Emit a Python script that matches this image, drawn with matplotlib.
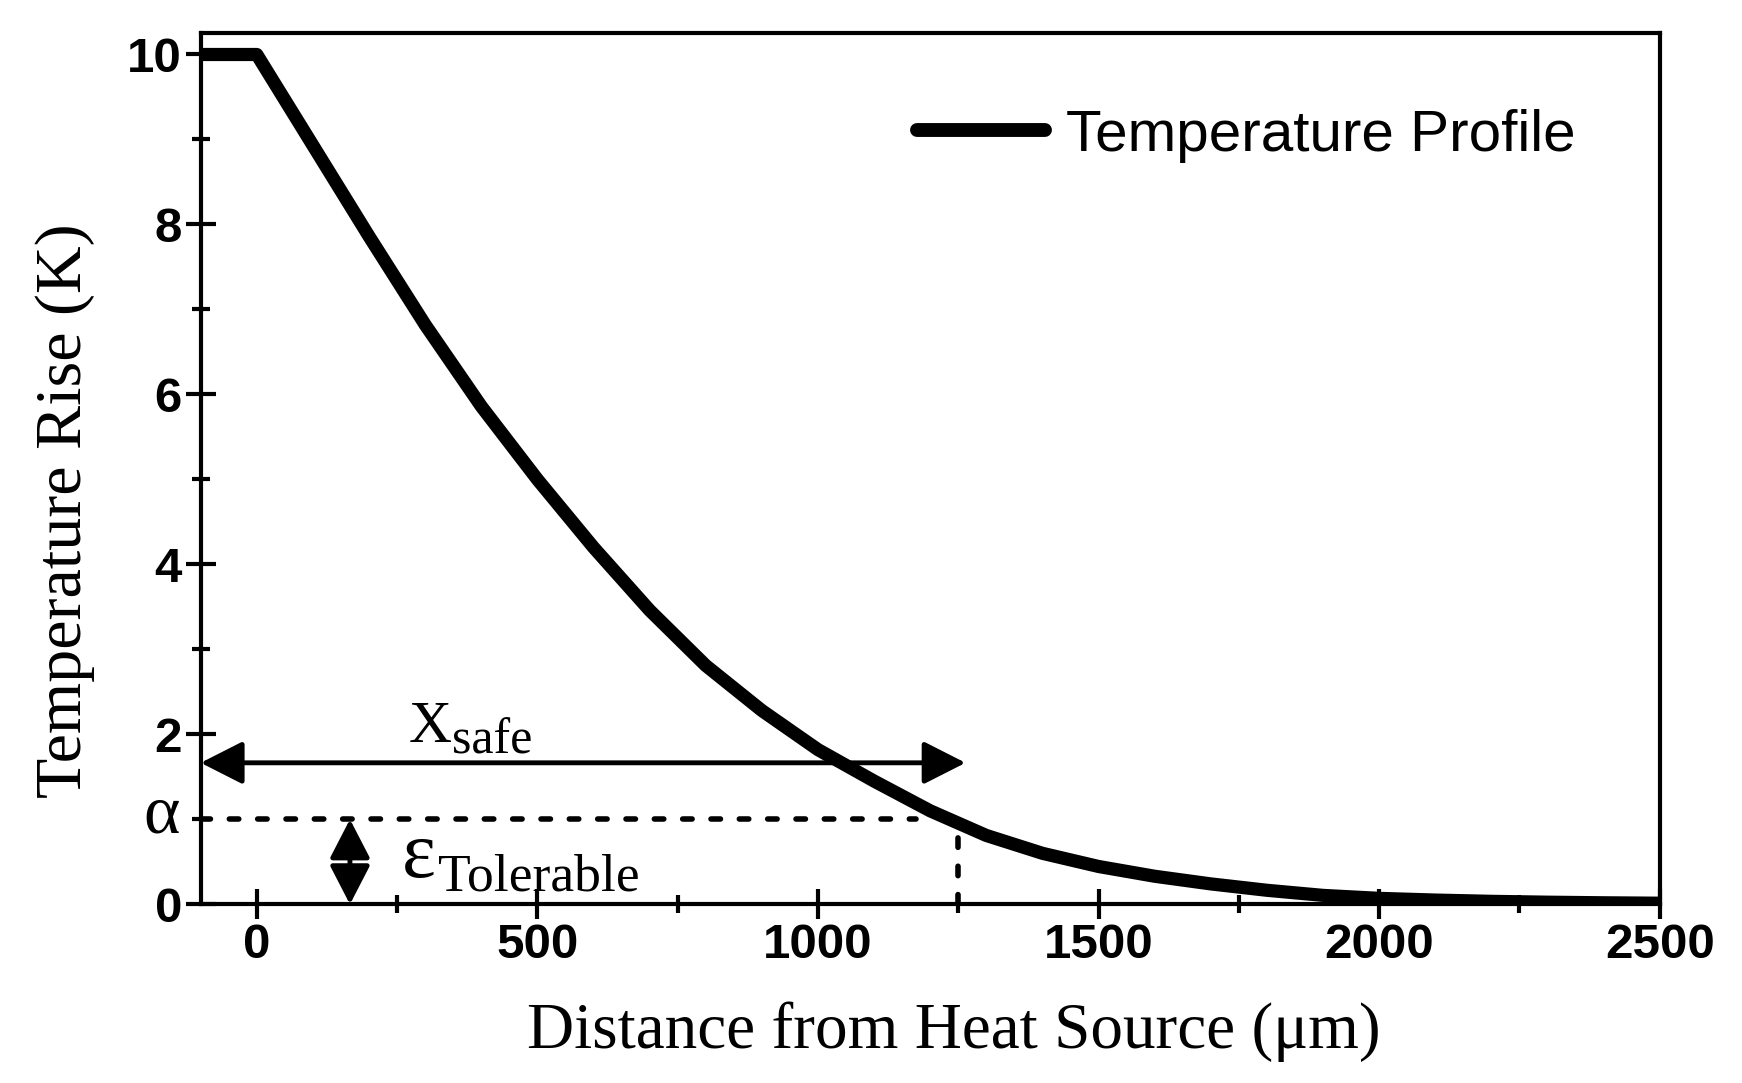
import matplotlib
matplotlib.use('Agg')
import matplotlib.pyplot as plt
from matplotlib.ticker import MultipleLocator
from matplotlib.patches import ArrowStyle
from matplotlib.lines import Line2D

# ---------------- data ----------------
distance_um = [-100, 0, 100, 200, 300, 400, 500, 600, 700, 800, 900, 1000,
               1100, 1200, 1300, 1400, 1500, 1600, 1700, 1800, 1900, 2000,
               2100, 2200, 2300, 2400, 2500]
temperature_rise_K = [10, 10, 8.93, 7.86, 6.82, 5.86, 5.0, 4.2, 3.46, 2.81, 2.28, 1.82,
                      1.45, 1.1, 0.81, 0.6, 0.445, 0.33, 0.24, 0.165, 0.105, 0.07,
                      0.05, 0.035, 0.025, 0.018, 0.013]

x_ticks = [0, 500, 1000, 1500, 2000, 2500]
y_ticks = [0, 2, 4, 6, 8, 10]
y_tick_labels = ['0', '2', '4', '6', '8', '10']

alpha_level = 1.0            # tolerable temperature rise (K)
alpha_line_end = 1175        # end of dashed alpha line (um)
x_safe = 1250                # safe distance (um)
x_safe_curve_level = 0.88    # top of vertical dashed line
xsafe_arrow_y = 1.665
xsafe_arrow_start = -100
xsafe_arrow_end = 1263
eps_arrow_x = 166

legend_label = 'Temperature Profile'
x_label = 'Distance from Heat Source (\u03bcm)'
y_label = 'Temperature Rise (K)'

# ---------------- style ----------------
SERIF = 'Liberation Serif'
SANS = 'Liberation Sans'

fig = plt.figure(figsize=(17.42, 10.83), dpi=100)
ax = fig.add_axes([0.1152, 0.165, 0.8376, 0.8043])

ax.plot(distance_um, temperature_rise_K, color='black', lw=9.5,
        solid_capstyle='round', solid_joinstyle='round', zorder=5,
        label=legend_label)

ax.set_xlim(-100, 2500)
ax.set_ylim(0, 10.25)

# dashed alpha line and vertical x_safe line
ax.plot([-100, alpha_line_end], [alpha_level, alpha_level], color='black', lw=4,
        linestyle=(0, (1.7, 3.4)), dash_capstyle='round', zorder=3)
ax.plot([x_safe, x_safe], [0, x_safe_curve_level], color='black', lw=4,
        linestyle=(0, (1.7, 3.4)), dash_capstyle='round', zorder=3)

# arrows
style_h = ArrowStyle('<|-|>', head_length=1.3, head_width=0.66)
ax.annotate('', xy=(xsafe_arrow_start, xsafe_arrow_y), xytext=(xsafe_arrow_end, xsafe_arrow_y),
            arrowprops=dict(arrowstyle=style_h, color='black', lw=3.5,
                            shrinkA=0, shrinkB=0, mutation_scale=20), zorder=4)
style_v = ArrowStyle('<|-|>', head_length=1.2, head_width=0.62)
ax.annotate('', xy=(eps_arrow_x, alpha_level), xytext=(eps_arrow_x, 0),
            arrowprops=dict(arrowstyle=style_v, color='black', lw=3.5,
                            shrinkA=0, shrinkB=0, mutation_scale=20), zorder=4)

# annotation texts
ax.text(270, 1.91, 'X', fontsize=43, family=SERIF, va='baseline', ha='left')
ax.text(348, 1.78, 'safe', fontsize=36, family=SERIF, va='baseline', ha='left')
ax.text(258, 0.32, '\u03b5', fontsize=58, family=SERIF, va='baseline', ha='left')
ax.text(322, 0.168, 'Tolerable', fontsize=38.5, family=SERIF, va='baseline', ha='left')
ax.text(-0.0142, 0.84, '\u03b1', fontsize=50, family=SERIF, va='baseline', ha='right',
        transform=ax.get_yaxis_transform())

# spines and ticks
for s in ax.spines.values():
    s.set_linewidth(3)
ax.set_xticks(x_ticks)
ax.set_yticks(y_ticks)
ax.set_yticklabels(y_tick_labels)
ax.xaxis.set_minor_locator(MultipleLocator(250))
ax.yaxis.set_minor_locator(MultipleLocator(1))
ax.tick_params(which='major', direction='inout', length=21, width=3, pad=3,
               top=False, right=False)
ax.tick_params(which='minor', direction='inout', length=12.5, width=3,
               top=False, right=False)
for lab in ax.get_xticklabels() + ax.get_yticklabels():
    lab.set_family(SANS)
    lab.set_fontweight('bold')
    lab.set_fontsize(35.5)

ax.set_xlabel(x_label, family=SERIF, fontsize=47)
ax.set_ylabel(y_label, family=SERIF, fontsize=47.5)
ax.xaxis.set_label_coords(0.516, -0.111)
ax.yaxis.set_label_coords(-0.0725, 0.4515)

handle = Line2D([], [], color='black', lw=10, solid_capstyle='round')
ax.legend([handle], [legend_label], loc='center left', bbox_to_anchor=(0.491, 0.8826),
          frameon=False, borderpad=0, borderaxespad=0, handlelength=2.2,
          handletextpad=0.35, prop={'family': SANS, 'size': 42})

fig.savefig('out.png', dpi=100)
